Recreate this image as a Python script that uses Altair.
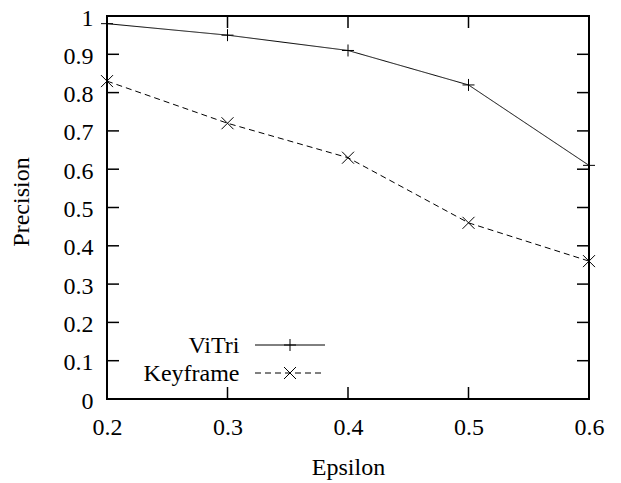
import altair as alt
import pandas as pd

# Measured precision for each epsilon threshold
epsilon = [0.2, 0.3, 0.4, 0.5, 0.6]
vitri = [0.98, 0.95, 0.91, 0.82, 0.61]
keyframe = [0.83, 0.72, 0.63, 0.46, 0.36]
series_names = ["ViTri", "Keyframe"]

x_ticks = [0.2, 0.3, 0.4, 0.5, 0.6]
y_ticks = [0, 0.1, 0.2, 0.3, 0.4, 0.5, 0.6, 0.7, 0.8, 0.9, 1]

FONT = "Liberation Serif, Times New Roman, serif"
FS = 24
W, H = 482, 383

PLUS = "M-1,0L1,0M0,-1L0,1"
CROSS = "M-1,-1L1,1M-1,1L1,-1"
styles = {
    "ViTri": {"shape": PLUS, "dash": [1, 0]},
    "Keyframe": {"shape": CROSS, "dash": [6, 4]},
}

df = pd.DataFrame({
    "epsilon": epsilon * 2,
    "precision": vitri + keyframe,
    "series": ["ViTri"] * len(epsilon) + ["Keyframe"] * len(epsilon),
})

xscale = alt.Scale(domain=[0.2, 0.6], nice=False, zero=False)
yscale = alt.Scale(domain=[0, 1], nice=False)

x_axis = alt.Axis(
    values=x_ticks, format="~g", grid=False, domain=False, ticks=False, tickSize=0,
    labelFont=FONT, labelFontSize=FS, labelColor="black", labelPadding=16,
    labelFlush=False, labelOverlap=False, labelBound=False,
    title="Epsilon", titleFont=FONT, titleFontSize=FS, titleFontWeight="normal",
    titleColor="black", titleX=W / 2, titleY=75, titleBaseline="alphabetic",
)
y_axis = alt.Axis(
    values=y_ticks, format="~g", grid=False, domain=False, ticks=False, tickSize=0,
    labelFont=FONT, labelFontSize=FS, labelColor="black", labelPadding=14,
    labelOffset=2, labelFlush=False, labelOverlap=False, labelBound=False,
    title="Precision", titleFont=FONT, titleFontSize=FS, titleFontWeight="normal",
    titleColor="black", titleAngle=270, titleX=-86, titleY=H / 2 - 6,
    titleAlign="center", titleBaseline="middle",
)


def xenc(field):
    return alt.X(field, scale=xscale, axis=x_axis)


def yenc(field):
    return alt.Y(field, scale=yscale, axis=y_axis)


layers = []
for name in series_names:
    st = styles[name]
    base = alt.Chart(df).transform_filter(alt.datum.series == name)
    line = base.mark_line(color="black", strokeWidth=1, strokeDash=st["dash"]).encode(
        x=xenc("epsilon:Q"), y=yenc("precision:Q"))
    pts = base.mark_point(shape=st["shape"], size=144, filled=False,
                          color="black", strokeWidth=1, opacity=1).encode(
        x=xenc("epsilon:Q"), y=yenc("precision:Q"))
    layers += [line, pts]

# Inward tick marks on all four sides of the frame
xt = pd.DataFrame({"epsilon": x_ticks})
yt = pd.DataFrame({"precision": y_ticks})
tick_style = dict(color="black", strokeWidth=1.5)
xt_bottom = alt.Chart(xt).mark_rule(**tick_style).encode(
    x=xenc("epsilon:Q"), y=alt.value(H), y2=alt.value(H - 12))
xt_top = alt.Chart(xt).mark_rule(**tick_style).encode(
    x=xenc("epsilon:Q"), y=alt.value(0), y2=alt.value(12))
yt_left = alt.Chart(yt).mark_rule(**tick_style).encode(
    y=yenc("precision:Q"), x=alt.value(0), x2=alt.value(12))
yt_right = alt.Chart(yt).mark_rule(**tick_style).encode(
    y=yenc("precision:Q"), x=alt.value(W - 12), x2=alt.value(W))
layers += [xt_bottom, xt_top, yt_left, yt_right]

# Key in the lower-left corner: label, line sample, marker
key_rows = [329, 357]
for name, ky in zip(series_names, key_rows):
    st = styles[name]
    kd = pd.DataFrame({"label": [name]})
    layers.append(alt.Chart(kd).mark_text(
        font=FONT, fontSize=FS, align="right", baseline="middle", color="black", dy=1
    ).encode(x=alt.value(132.5), y=alt.value(ky), text="label:N"))
    layers.append(alt.Chart(kd).mark_rule(
        color="black", strokeWidth=1, strokeDash=st["dash"]
    ).encode(x=alt.value(148), x2=alt.value(218), y=alt.value(ky)))
    layers.append(alt.Chart(kd).mark_point(
        shape=st["shape"], size=144, filled=False, color="black", strokeWidth=1, opacity=1
    ).encode(x=alt.value(183), y=alt.value(ky)))

chart = alt.layer(*layers).properties(
    width=W, height=H,
    autosize=alt.AutoSizeParams(type="none"),
    padding={"left": 107, "top": 16, "right": 32, "bottom": 84},
    background="white",
).configure_view(stroke="black", strokeWidth=2)

chart.save("out.html", embed_options={"renderer": "svg", "actions": False})
